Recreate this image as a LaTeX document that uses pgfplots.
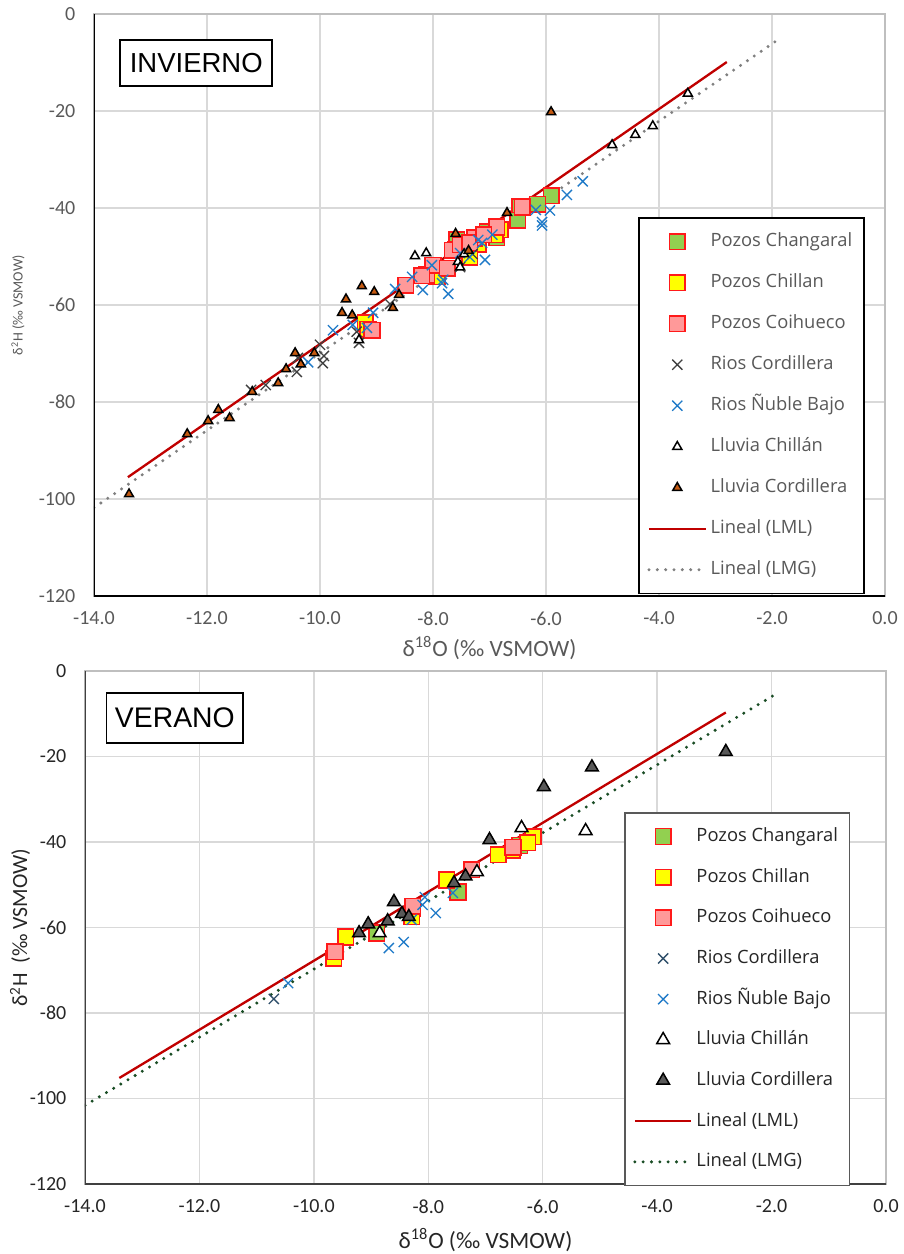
\documentclass[border=0pt]{standalone}
\usepackage{fontspec}
\setmainfont{Carlito}
\newfontfamily\legfont{Open Sans}
\newfontfamily\boxfont{Liberation Sans}
\usepackage{pgfplots}
\pgfplotsset{compat=1.18}

\definecolor{grn}{HTML}{92D050}
\definecolor{yel}{HTML}{FFFF00}
\definecolor{pnk}{HTML}{FF9999}
\definecolor{rbord}{HTML}{FF1A1A}
\definecolor{rcord}{HTML}{404040}
\definecolor{rcordb}{HTML}{2F4F6A}
\definecolor{rnub}{HTML}{1F7AC8}
\definecolor{brn}{HTML}{C55A11}
\definecolor{dgry}{HTML}{595959}
\definecolor{lml}{HTML}{C00000}
\definecolor{lmgg}{HTML}{808080}
\definecolor{lmgv}{HTML}{1A4D25}
\definecolor{gridc}{HTML}{D9D9D9}
\definecolor{framec}{HTML}{BFBFBF}
\definecolor{txtg}{HTML}{595959}

\pgfplotsset{
  panel/.style={
    scale only axis,
    xmin=-14, xmax=0, ymin=-120, ymax=0,
    xtick={-14,-12,...,0}, ytick={-120,-100,...,0},
    grid=major, major grid style={gridc, line width=0.8pt},
    major tick length=0pt,
    axis line style={framec, line width=0.8pt},
    /pgf/number format/assume math mode=true,
    xticklabel style={/pgf/number format/fixed, /pgf/number format/fixed zerofill, /pgf/number format/precision=1, yshift=-6pt},
    tick label style={font=\fontsize{12}{14}\selectfont},
    yticklabel style={inner xsep=0pt, xshift=-11pt},
    legend cell align=left,
    legend image code/.code={\draw[mark repeat=2, mark phase=2, ##1] plot coordinates {(0pt,0pt) (17pt,0pt) (34pt,0pt)};},
  },
  sq/.style={only marks, mark=square*, mark size=4.7pt, mark options={draw=rbord, fill=#1, line width=0.9pt}},
  crs/.style={only marks, mark=x, mark size=4.3pt, mark options={draw=#1, line width=0.8pt}},
  tri/.style={only marks, mark=triangle*, mark options={draw=black, fill=#1, line width=0.9pt}},
  dots/.style={#1, line width=2pt, line cap=round, dash pattern=on 0pt off 5pt, no marks},
}

\begin{document}
\begin{tikzpicture}
\useasboundingbox (0,0) rectangle (541.8pt,-752.4pt);

% ---------- INVIERNO ----------
\begin{axis}[panel,
  at={(56.4pt,-8.4pt)}, anchor=north west,
  width=474.6pt, height=349.2pt,
  tick label style={color=txtg},
  xlabel={δ\textsuperscript{18}O (‰ VSMOW)},
  ylabel={δ\textsuperscript{2}H (‰ VSMOW)},
  xlabel style={font=\fontsize{14}{16}\selectfont, color=txtg, at={(axis description cs:0.5,-0.089)}, anchor=center},
  ylabel style={font=\fontsize{8.5}{10}\selectfont, color=txtg, at={(axis description cs:-0.096,0.5)}, anchor=center},
  legend style={at={(0.688,0.651)}, anchor=north west, draw=black, line width=0.9pt, fill=white,
    font=\legfont\fontsize{11}{13}\selectfont, text=txtg, row sep=0pt, inner xsep=5pt, inner ysep=2pt,
    nodes={text height=9pt, text depth=3pt, inner ysep=6.3pt}},
]
\addplot[sq=grn] coordinates {
(-5.91,-37.5) (-6.15,-39.2) (-6.46,-39.8) (-6.50,-42.5) (-6.87,-46.1) (-7.04,-44.9) (-7.58,-46.6) (-9.12,-65.2)
};
\addlegendentry{Pozos Changaral}
\addplot[sq=yel] coordinates {
(-6.81,-44.5) (-6.90,-45.5) (-7.20,-47.5) (-7.35,-50.1) (-7.60,-48.5) (-7.93,-54.2) (-9.20,-63.7) (-9.15,-65.0)
};
\addlegendentry{Pozos Chillan}
\addplot[sq=pnk] coordinates {
(-8.48,-55.9) (-8.11,-53.8) (-8.00,-51.8) (-7.66,-48.7) (-7.52,-47.6) (-7.26,-46.2) (-6.87,-43.9)
(-6.42,-39.8) (-9.08,-65.2) (-8.20,-54.0) (-7.35,-47.2) (-7.75,-52.4) (-7.10,-45.5)
};
\addlegendentry{Pozos Coihueco}
\addplot[crs=rcord] coordinates {
(-11.22,-77.5) (-10.96,-76.5) (-10.41,-73.8) (-10.39,-70.9) (-10.00,-68.2) (-9.95,-72.0) (-9.93,-70.5)
(-9.31,-67.8) (-9.35,-65.5) (-8.76,-59.8) (-7.52,-52.2) (-7.30,-49.5)
};
\addlegendentry{Rios Cordillera}
\addplot[crs=rnub] coordinates {
(-5.35,-34.5) (-5.63,-37.3) (-5.93,-40.5) (-6.07,-42.9) (-6.07,-43.6) (-6.18,-40.4) (-7.08,-50.7)
(-7.20,-46.6) (-7.35,-50.1) (-7.73,-57.7) (-7.84,-55.5) (-7.82,-54.8) (-8.18,-56.9) (-8.37,-54.2)
(-8.67,-56.7) (-9.06,-61.6) (-9.77,-65.2) (-9.42,-64.1) (-8.02,-51.8) (-7.52,-49.3) (-7.13,-47.2)
(-10.21,-71.8) (-9.17,-64.7) (-6.95,-45.5)
};
\addlegendentry{Rios Ñuble Bajo}
\addplot[tri=white, mark size=3.1pt] coordinates {
(-3.49,-16.4) (-4.11,-23.1) (-4.42,-24.9) (-4.83,-27.0) (-8.32,-49.9) (-8.12,-49.3) (-7.56,-51.1)
(-7.52,-52.2) (-9.31,-67.2) (-7.45,-49.5)
};
\addlegendentry{Lluvia Chillán}
\addplot[tri=brn, mark size=3.1pt] coordinates {
(-13.38,-99.0) (-12.35,-86.6) (-11.98,-83.9) (-11.80,-81.6) (-11.60,-83.3) (-11.20,-77.9) (-10.74,-76.1)
(-10.60,-73.2) (-10.44,-69.9) (-10.34,-72.2) (-10.10,-69.9) (-9.61,-61.6) (-9.54,-58.8) (-9.43,-62.1)
(-9.26,-56.1) (-9.04,-57.3) (-8.71,-60.6) (-8.60,-57.9) (-7.60,-45.3) (-7.37,-48.8) (-6.69,-41.0) (-5.91,-20.2)
};
\addlegendentry{Lluvia Cordillera}
\addplot[lml, line width=1.4pt, no marks] coordinates {(-13.4,-95.5) (-2.8,-9.9)};
\addlegendentry{Lineal (LML)}
\addplot[dots=lmgg] coordinates {(-14,-101.8) (-1.93,-5.6)};
\addlegendentry{Lineal (LMG)}
\draw[black, line width=1pt] (rel axis cs:0,1) -- (rel axis cs:0,0) -- (rel axis cs:1,0);
\node[draw=black, line width=1.2pt, font=\boxfont\fontsize{16.5}{18}\selectfont, minimum width=91pt, minimum height=27.6pt, inner sep=0pt, fill=white] at (axis cs:-12.19,-10.1) {INVIERNO};
\end{axis}

% ---------- VERANO ----------
\begin{axis}[panel,
  at={(51pt,-402.6pt)}, anchor=north west,
  width=480.6pt, height=307.8pt,
  tick label style={color=black!85},
  xlabel={δ\textsuperscript{18}O (‰ VSMOW)},
  ylabel={δ\textsuperscript{2}H \ (‰ VSMOW)},
  xlabel style={font=\fontsize{14}{16}\selectfont, color=black!85, at={(axis description cs:0.5,-0.109)}, anchor=center},
  ylabel style={font=\fontsize{13}{15}\selectfont, color=black!85, at={(axis description cs:-0.081,0.5)}, anchor=center},
  legend style={at={(0.673,0.725)}, anchor=north west, draw=dgry, line width=0.9pt, fill=white,
    font=\legfont\fontsize{11}{13}\selectfont, text=black!85, row sep=0pt, inner xsep=5pt, inner ysep=2pt,
    nodes={text height=9pt, text depth=3pt, inner ysep=6.2pt}},
]
\addplot[sq=grn] coordinates {
(-7.48,-51.7) (-8.90,-61.3) (-6.40,-40.8)
};
\addlegendentry{Pozos Changaral}
\addplot[sq=yel] coordinates {
(-6.17,-38.8) (-6.26,-40.2) (-6.53,-41.9) (-6.78,-43.0) (-7.68,-48.9) (-8.27,-55.5) (-8.29,-57.5)
(-9.44,-62.2) (-9.65,-67.2)
};
\addlegendentry{Pozos Chillan}
\addplot[sq=pnk] coordinates {
(-7.24,-46.5) (-9.63,-65.7) (-6.52,-41.2) (-8.27,-55.0)
};
\addlegendentry{Pozos Coihueco}
\addplot[crs=rcordb] coordinates {
(-10.70,-76.7)
};
\addlegendentry{Rios Cordillera}
\addplot[crs=rnub] coordinates {
(-10.45,-73.0) (-8.69,-64.8) (-8.43,-63.4) (-7.87,-56.6) (-8.10,-54.7) (-8.06,-52.9) (-8.29,-58.2) (-7.57,-51.9)
};
\addlegendentry{Rios Ñuble Bajo}
\addplot[tri=white, mark size=4.4pt] coordinates {
(-8.85,-61.3) (-7.15,-47.0) (-6.37,-36.7) (-5.25,-37.4)
};
\addlegendentry{Lluvia Chillán}
\addplot[tri=dgry, mark size=4.4pt] coordinates {
(-2.80,-18.9) (-5.14,-22.5) (-5.98,-27.1) (-6.93,-39.5) (-8.60,-54.0) (-9.21,-61.3) (-9.05,-59.2)
(-8.71,-58.5) (-8.46,-56.8) (-8.34,-57.5) (-7.55,-49.6) (-7.35,-48.0)
};
\addlegendentry{Lluvia Cordillera}
\addplot[lml, line width=1.4pt, no marks] coordinates {(-13.4,-95.2) (-2.8,-9.7)};
\addlegendentry{Lineal (LML)}
\addplot[dots=lmgv] coordinates {(-14,-101.6) (-1.9,-5.2)};
\addlegendentry{Lineal (LMG)}
\draw[black!75, line width=1.1pt] (rel axis cs:0,1) -- (rel axis cs:0,0) -- (rel axis cs:1,0);
\node[draw=black, line width=0.9pt, font=\boxfont\fontsize{17}{19}\selectfont, minimum width=82pt, minimum height=30pt, inner sep=0pt, fill=white] at (axis cs:-12.43,-11.0) {VERANO};
\end{axis}
\end{tikzpicture}
\end{document}
